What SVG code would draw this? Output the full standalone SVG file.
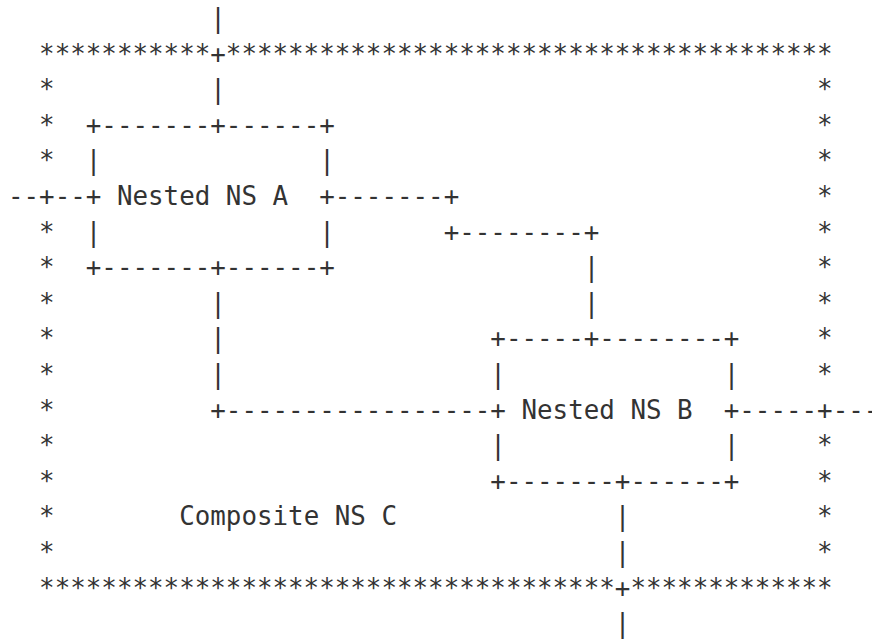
<svg xmlns="http://www.w3.org/2000/svg" width="872" height="639" viewBox="0 0 872 639">
<style>
text{font-family:"DejaVu Sans Mono","Liberation Mono",monospace;font-size:25.85px;fill:#333;white-space:pre}
</style>
<rect width="872" height="639" fill="#fff"/>
<g id="composite-ns-c">
<text x="39.12" y="62.6" xml:space="preserve">***********</text>
<text x="225.84" y="62.6" xml:space="preserve">***************************************</text>
<text x="39.12" y="98.2">*</text><text x="817.12" y="98.2">*</text>
<text x="39.12" y="133.8">*</text><text x="817.12" y="133.8">*</text>
<text x="39.12" y="169.4">*</text><text x="817.12" y="169.4">*</text>
<text x="817.12" y="205">*</text>
<text x="39.12" y="240.6">*</text><text x="817.12" y="240.6">*</text>
<text x="39.12" y="276.2">*</text><text x="817.12" y="276.2">*</text>
<text x="39.12" y="311.8">*</text><text x="817.12" y="311.8">*</text>
<text x="39.12" y="347.4">*</text><text x="817.12" y="347.4">*</text>
<text x="39.12" y="383">*</text><text x="817.12" y="383">*</text>
<text x="39.12" y="418.6">*</text>
<text x="39.12" y="454.2">*</text><text x="817.12" y="454.2">*</text>
<text x="39.12" y="489.8">*</text><text x="817.12" y="489.8">*</text>
<text x="39.12" y="525.4">*</text><text x="817.12" y="525.4">*</text>
<text x="39.12" y="561">*</text><text x="817.12" y="561">*</text>
<text x="39.12" y="596.6" xml:space="preserve">*************************************</text>
<text x="630.4" y="596.6" xml:space="preserve">*************</text>
<text x="179.16" y="525.4" xml:space="preserve">Composite NS C</text>
</g>
<g id="nested-ns-a">
<text x="85.8" y="133.8" xml:space="preserve">+-------+------+</text>
<text x="85.8" y="169.4">|</text><text x="319.2" y="169.4">|</text>
<text x="85.8" y="205">+</text><text x="319.2" y="205">+</text>
<text x="116.92" y="205" xml:space="preserve">Nested NS A</text>
<text x="85.8" y="240.6">|</text><text x="319.2" y="240.6">|</text>
<text x="85.8" y="276.2" xml:space="preserve">+-------+------+</text>
</g>
<g id="nested-ns-b">
<text x="490.36" y="347.4" xml:space="preserve">+-----+--------+</text>
<text x="490.36" y="383">|</text><text x="723.76" y="383">|</text>
<text x="490.36" y="418.6">+</text><text x="723.76" y="418.6">+</text>
<text x="521.48" y="418.6" xml:space="preserve">Nested NS B</text>
<text x="490.36" y="454.2">|</text><text x="723.76" y="454.2">|</text>
<text x="490.36" y="489.8" xml:space="preserve">+-------+------+</text>
</g>
<g id="connectors">
<text x="210.28" y="27">|</text>
<text x="210.28" y="62.6">+</text>
<text x="210.28" y="98.2">|</text>
<text x="8" y="205" xml:space="preserve">--+--</text>
<text x="334.76" y="205" xml:space="preserve">-------+</text>
<text x="443.68" y="240.6" xml:space="preserve">+--------+</text>
<text x="583.72" y="276.2">|</text>
<text x="583.72" y="311.8">|</text>
<text x="210.28" y="311.8">|</text>
<text x="210.28" y="347.4">|</text>
<text x="210.28" y="383">|</text>
<text x="210.28" y="418.6" xml:space="preserve">+-----------------</text>
<text x="739.32" y="418.6" xml:space="preserve">-----+---</text>
<text x="614.84" y="525.4">|</text>
<text x="614.84" y="561">|</text>
<text x="614.84" y="596.6">+</text>
<text x="614.84" y="632.2">|</text>
</g>
</svg>
